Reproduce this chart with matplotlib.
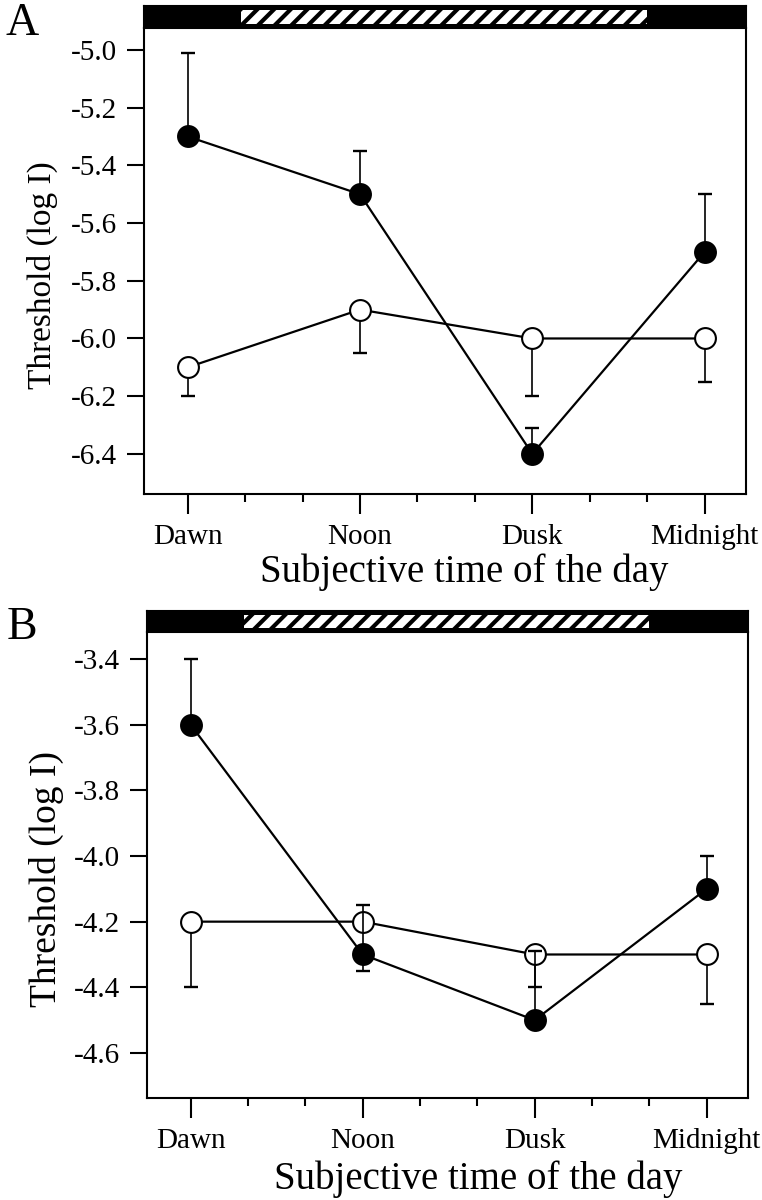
import numpy as np
import matplotlib
matplotlib.use("Agg")
import matplotlib.pyplot as plt
from matplotlib.patches import Rectangle

plt.rcParams['font.family'] = ['Liberation Serif', 'DejaVu Serif']
plt.rcParams['axes.unicode_minus'] = False
plt.rcParams['hatch.linewidth'] = 3.0

# --- data ---
times = ["Dawn", "Noon", "Dusk", "Midnight"]
time_pos = [0, 3, 6, 9]
minor_pos = [1, 2, 4, 5, 7, 8]
light_start, light_end = 0.93, 8.0

# panel A
a_filled = [-5.3, -5.5, -6.4, -5.7]
a_filled_up = [0.29, 0.15, 0.09, 0.20]
a_filled_down = [0.0, 0.0, 0.0, 0.0]
a_open = [-6.1, -5.9, -6.0, -6.0]
a_open_up = [0.0, 0.0, 0.0, 0.0]
a_open_down = [0.10, 0.15, 0.20, 0.15]
a_yticks = [-5.0, -5.2, -5.4, -5.6, -5.8, -6.0, -6.2, -6.4]

# panel B
b_filled = [-3.6, -4.3, -4.5, -4.1]
b_filled_up = [0.20, 0.15, 0.21, 0.10]
b_filled_down = [0.0, 0.05, 0.0, 0.0]
b_open = [-4.2, -4.2, -4.3, -4.3]
b_open_up = [0.0, 0.0, 0.0, 0.0]
b_open_down = [0.20, 0.0, 0.10, 0.15]
b_yticks = [-3.4, -3.6, -3.8, -4.0, -4.2, -4.4, -4.6]

W, H = 762, 1200
XLIM = (-0.76, 9.72)


def draw_panel(fig, box, bar_box, ylim, yticks, filled, f_err, opened, o_err,
               letter, ylabel_size, xlabel_pos):
    """Draw one threshold panel with its light/dark bar on top."""
    left, bottom, right, top = box
    ax = fig.add_axes([left / W, 1 - bottom / H, (right - left) / W, (bottom - top) / H])
    bar_top, bar_bottom = bar_box
    bar = fig.add_axes([left / W, 1 - bar_bottom / H, (right - left) / W,
                        (bar_bottom - bar_top) / H])

    # light/dark bar
    bar.set_facecolor('black')
    bar.set_xlim(*XLIM)
    bar.set_ylim(0, 1)
    light = Rectangle((light_start, 0.18), light_end - light_start, 0.64,
                      facecolor='white', edgecolor='black', linewidth=0,
                      hatch='//')
    bar.add_patch(light)
    bar.set_xticks([])
    bar.set_yticks([])
    for s in bar.spines.values():
        s.set_linewidth(1.5)

    # open circles (drawn underneath the filled series' error bars)
    ax.errorbar(time_pos, opened, yerr=o_err, fmt='none', ecolor='black',
                elinewidth=1.2, capsize=5, capthick=1.7, zorder=2)
    ax.plot(time_pos, opened, '-o', color='black', lw=1.6, ms=15, mew=1.5,
            mfc='white', mec='black', zorder=3)
    # filled circles
    ax.errorbar(time_pos, filled, yerr=f_err, fmt='none', ecolor='black',
                elinewidth=1.2, capsize=5, capthick=1.7, zorder=4)
    ax.plot(time_pos, filled, '-o', color='black', lw=1.6, ms=15, mew=1.5,
            mfc='black', mec='black', zorder=5)

    ax.set_xlim(*XLIM)
    ax.set_ylim(*ylim)
    ax.set_xticks(time_pos)
    ax.set_xticklabels(times)
    ax.set_xticks(minor_pos, minor=True)
    ax.set_yticks(yticks)
    ax.set_yticklabels([f"{v:.1f}" for v in yticks])
    ax.tick_params(axis='x', which='major', length=14.4, width=1.5,
                   labelsize=21, pad=7)
    ax.tick_params(axis='x', which='minor', length=5.8, width=1.5)
    ax.tick_params(axis='y', length=12.5, width=1.5, labelsize=21, pad=7)
    for s in ax.spines.values():
        s.set_linewidth(1.5)
    ax.spines['top'].set_visible(False)

    ax.set_xlabel("Subjective time of the day", fontsize=28)
    ax.xaxis.set_label_coords(*xlabel_pos)
    ax.text(-0.168, 0.47, "Threshold (log I)", transform=ax.transAxes,
            rotation=90, ha='center', va='center', fontsize=ylabel_size)
    fig.text(22 / W, 1 - (top - 4) / H, letter, fontsize=33,
             ha='center', va='center')
    return ax


fig = plt.figure(figsize=(W / 100, H / 100), dpi=100)

draw_panel(fig, (144, 494, 746, 28), (6, 28), (-6.539, -4.924), a_yticks,
           a_filled, [a_filled_down, a_filled_up],
           a_open, [a_open_down, a_open_up], "A", 24, (0.532, -0.128))

draw_panel(fig, (147, 1098, 748, 632), (611, 632), (-4.737, -3.318), b_yticks,
           b_filled, [b_filled_down, b_filled_up],
           b_open, [b_open_down, b_open_up], "B", 27, (0.551, -0.134))

fig.savefig("out.png", dpi=100, facecolor='white')
